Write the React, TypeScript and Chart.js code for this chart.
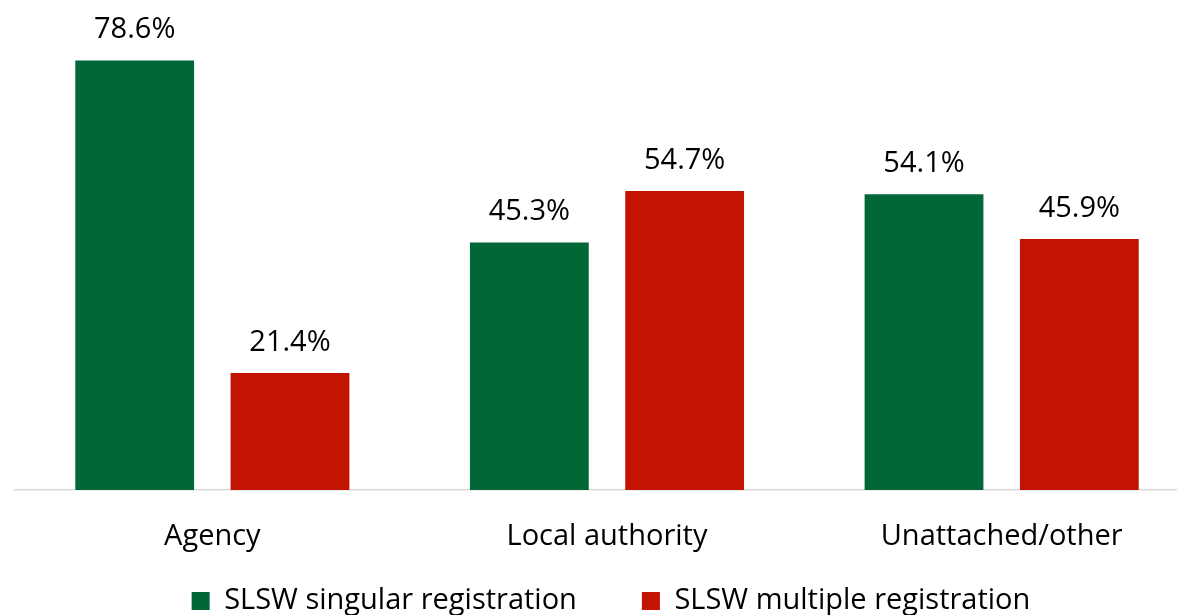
import React, { useEffect, useRef } from "react";
import { Chart, registerables } from "chart.js";

Chart.register(...registerables);

const categories = ["Agency", "Local authority", "Unattached/other"];
const seriesNames = ["SLSW singular registration", "SLSW multiple registration"];
const singularValues = [78.6, 45.3, 54.1];
const multipleValues = [21.4, 54.7, 45.9];
const seriesColors = ["#026736", "#C21400"];

const FONT = '"Open Sans", "DejaVu Sans", sans-serif';

const dataLabels = {
  id: "dataLabels",
  afterDatasetsDraw(chart: any) {
    const ctx = chart.ctx;
    ctx.save();
    ctx.font = `29px ${FONT}`;
    ctx.fillStyle = "#000";
    ctx.textAlign = "center";
    ctx.textBaseline = "alphabetic";
    chart.data.datasets.forEach((ds: any, i: number) => {
      const meta = chart.getDatasetMeta(i);
      meta.data.forEach((bar: any, j: number) => {
        ctx.fillText(ds.data[j].toFixed(1) + "%", bar.x, bar.y - 22);
      });
    });
    ctx.restore();
  },
};

// Legend: wide gap between items (labels.padding) but a compact block near the bottom.
const LEGEND_RESERVED = 40;
const LEGEND_ITEM_CENTER = 601;
const LEGEND_SHIFT_X = 4;
const legendPlacement = {
  id: "legendPlacement",
  beforeInit(chart: any) {
    const lg = chart.legend;
    if (!lg) return;
    const origFit = lg.fit.bind(lg);
    lg.fit = function () {
      origFit();
      this.height = LEGEND_RESERVED;
    };
  },
  afterLayout(chart: any) {
    const lg = chart.legend;
    if (!lg) return;
    const pad = lg.options.labels.padding;
    const size = lg.options.labels.font.size;
    lg.top = LEGEND_ITEM_CENTER - size / 2 - pad;
    lg.bottom = lg.top + pad + size + 12;
    lg.height = lg.bottom - lg.top;
    lg.left += LEGEND_SHIFT_X;
    lg.right += LEGEND_SHIFT_X;
  },
};

export default function App() {
  const ref = useRef<HTMLCanvasElement | null>(null);
  useEffect(() => {
    if (!ref.current) return;
    const chart = new Chart(ref.current, {
      type: "bar",
      data: {
        labels: categories,
        datasets: [
          { label: seriesNames[0], data: singularValues, backgroundColor: seriesColors[0], borderWidth: 0 },
          { label: seriesNames[1], data: multipleValues, backgroundColor: seriesColors[1], borderWidth: 0 },
        ],
      },
      options: {
        responsive: false,
        animation: false,
        categoryPercentage: 0.787,
        barPercentage: 0.765,
        layout: { padding: { left: 15, right: 15, top: 9, bottom: 0 } },
        scales: {
          x: {
            grid: { display: false, drawTicks: false },
            border: { display: true, color: "#d9d9d9", width: 1.5 },
            ticks: { color: "#000", font: { family: FONT, size: 29 }, padding: 29 },
            afterFit: (scale: any) => {
              scale.height = 615 - LEGEND_RESERVED - 490;
            },
          },
          y: { display: false, min: 0, max: 88 },
        },
        plugins: {
          legend: {
            position: "bottom",
            labels: {
              boxWidth: 18,
              boxHeight: 18,
              padding: 65,
              color: "#000",
              font: { family: FONT, size: 29 },
            },
          },
          tooltip: { enabled: false },
        },
      },
      plugins: [legendPlacement, dataLabels],
    });
    return () => chart.destroy();
  }, []);
  return (
    <div style={{ position: "fixed", left: 0, top: 0, width: 1177, height: 615, overflow: "hidden", background: "#fff" }}>
      <canvas ref={ref} width={1214} height={615} style={{ display: "block" }} />
    </div>
  );
}
